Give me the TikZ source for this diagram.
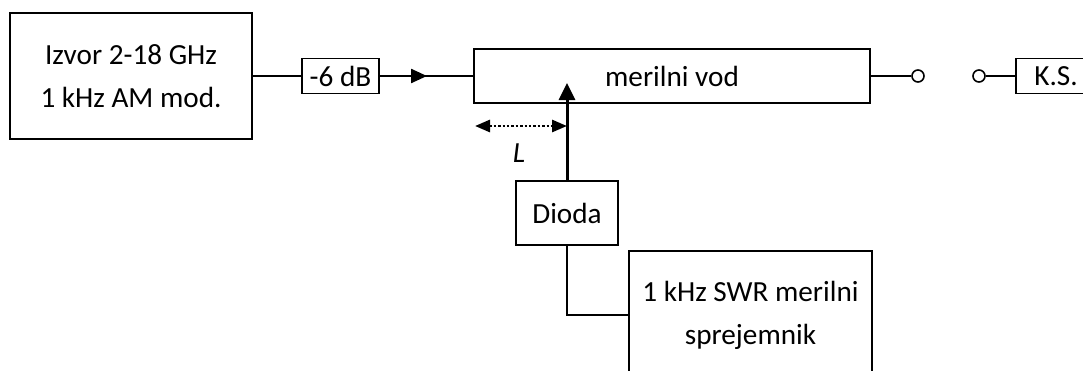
\documentclass[tikz,border=0pt]{standalone}
\usepackage{fontspec}
\setmainfont{Carlito}
\usetikzlibrary{
  arrows.meta,
  positioning
}

\begin{document}
\begin{tikzpicture}[
  x=0.5pt, y=-0.5pt,
  every node/.style={font=\fontsize{14.6}{21.5}\selectfont},
  box/.style={rectangle, draw, line width=0.8pt, align=center, inner sep=0pt},
  wire/.style={line width=0.7pt},
  feed/.style={wire, line width=1pt},
  arr/.style={-{Triangle[length=8.5pt,width=8pt]}, line width=1.5pt},
  flow/.style={-{Triangle[length=8pt,width=7pt]}, line width=1.2pt},
  term/.style={circle, draw, line width=0.8pt, minimum size=6pt, inner sep=0pt},
  dim/.style={{Triangle[length=7.5pt,width=6pt]}-{Triangle[length=7.5pt,width=6pt]},
              dash pattern=on 1.2pt off 1pt, line width=1.4pt},
]
\clip (0,0) rectangle (1083,370);

\node[box, minimum width=121pt, minimum height=63pt](src) at (131,76)
  {Izvor 2-18 GHz\\1 kHz AM mod.};
\node[box, minimum width=38.5pt, minimum height=17.5pt](att) at (340.5,76)
  {-6 dB};
\node[box, minimum width=198pt, minimum height=27pt](vod) at (672,76)
  {merilni vod};
\node[term](t1) at (918,76) {};
\node[term](t2) at (979,76) {};
\node[box, minimum width=40pt, minimum height=17.5pt](ks) at (1056,76)
  {K.S.};
\node[box, minimum width=51pt, minimum height=32pt](dioda) at (567,213)
  {Dioda};
\node[box, minimum width=121.5pt, minimum height=64pt](swr) at (750.5,315)
  {1 kHz SWR merilni\\sprejemnik};
\node(len) at (519,153) {\itshape L};

\coordinate (mid0) at (392,76);
\coordinate (mid1) at (427,76);
\coordinate (probe) at (567,83);
\coordinate (dimL) at (475,126);
\coordinate (dimR) at (567,126);

\draw[wire](src)--(att); \draw[wire](att)--(vod); \draw[flow](mid0)--(mid1);
\draw[wire](vod)--(t1); \draw[wire](t2)--(ks);
\draw[arr](dioda.north)--(probe);
\draw[dim](dimL)--(dimR);
\draw[feed](dioda.south)|-(swr.west);
\end{tikzpicture}
\end{document}
